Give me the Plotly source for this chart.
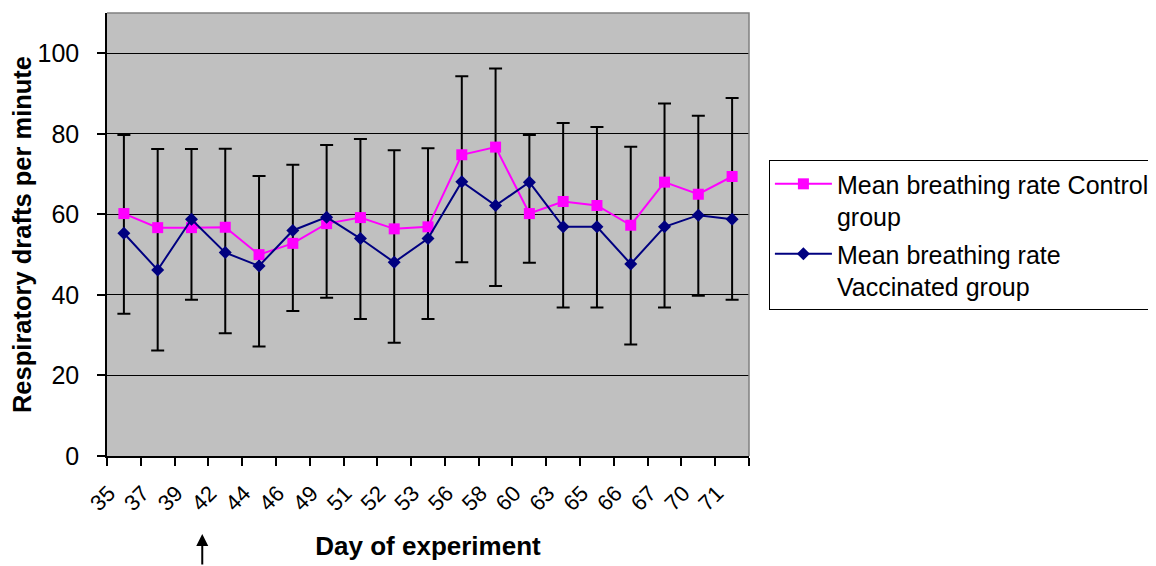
import plotly.graph_objects as go

days = ["35", "37", "39", "42", "44", "46", "49", "51", "52", "53",
        "56", "58", "60", "63", "65", "66", "67", "70", "71"]
control = [60.2, 56.7, 56.7, 56.8, 50.0, 52.8, 57.7, 59.2, 56.4, 56.9,
           74.8, 76.7, 60.2, 63.2, 62.2, 57.3, 68.0, 65.0, 69.4]
vaccinated = [55.3, 46.2, 58.8, 50.5, 47.2, 56.0, 59.3, 54.0, 48.1, 54.0,
              68.1, 62.2, 68.0, 56.9, 56.9, 47.7, 56.9, 59.8, 58.8]
control_err_plus = [19.5] * 19
vacc_err_minus = [20.0] * 19
marked_day = "42"

FONT = "Arial, Liberation Sans, sans-serif"
MAGENTA = "#FF00FF"
NAVY = "#000080"

# combined error span: from vaccinated minus error up to control plus error
err_base = [v - e for v, e in zip(vaccinated, vacc_err_minus)]
err_span = [c + ep - b for c, ep, b in zip(control, control_err_plus, err_base)]

fig = go.Figure()
fig.add_trace(go.Scatter(
    x=days, y=err_base, mode="markers",
    marker=dict(size=1, color="rgba(0,0,0,0)"),
    error_y=dict(type="data", array=err_span, arrayminus=[0] * len(days),
                 symmetric=False, color="black", thickness=2, width=6.5),
    showlegend=False, hoverinfo="skip"))
fig.add_trace(go.Scatter(
    x=days, y=control, mode="lines+markers",
    name="Mean breathing rate Control<br>group", legendgroup="c",
    line=dict(color=MAGENTA, width=2),
    marker=dict(symbol="square", size=11, color=MAGENTA)))
fig.add_trace(go.Scatter(
    x=days, y=vaccinated, mode="lines+markers",
    name="Mean breathing rate<br>Vaccinated group", legendgroup="v",
    line=dict(color=NAVY, width=2),
    marker=dict(symbol="diamond", size=10, color=NAVY)))

fig.update_layout(
    width=1148, height=558,
    margin=dict(l=99, r=407, t=5, b=110, autoexpand=False),
    paper_bgcolor="white", plot_bgcolor="#C0C0C0",
    font=dict(family=FONT, color="black"),
    showlegend=True,
    legend=dict(x=1.031, y=0.668, xanchor="left", yanchor="top",
                bgcolor="white", bordercolor="black", borderwidth=1,
                font=dict(size=25, family=FONT, color="black"),
                valign="top", itemwidth=57, tracegroupgap=2),
    xaxis=dict(type="category", range=[-0.5, 18.5],
               showgrid=False, zeroline=False,
               showline=True, linecolor="black", linewidth=1.5,
               ticks="outside", tickson="boundaries", ticklen=8,
               tickcolor="black", tickwidth=1.5,
               tickangle=-45, tickfont=dict(size=22, family=FONT),
               ticklabelshift=-15, ticklabelstandoff=14,
               title=dict(text="<b>Day of experiment</b>",
                          font=dict(size=26, family=FONT), standoff=22)),
    yaxis=dict(range=[0, 110], dtick=20, tick0=0,
               showgrid=True, gridcolor="black", gridwidth=1.3,
               zeroline=False,
               showline=True, linecolor="black", linewidth=1.5,
               ticks="outside", ticklen=8, tickcolor="black", tickwidth=1.5,
               tickfont=dict(size=25, family=FONT), ticklabelstandoff=13,
               title=dict(text="<b>Respiratory drafts per minute</b>",
                          font=dict(size=25.5, family=FONT), standoff=0)),
    shapes=[dict(type="path", xref="paper", yref="paper",
                 path="M0,1 L1,1 L1,0", line=dict(color="#808080", width=1.5),
                 layer="above")],
    annotations=[dict(x=days.index(marked_day), y=-0.176, xref="x", yref="paper",
                      xshift=-23, text="", showarrow=True,
                      ax=0, ay=34, arrowhead=2, arrowsize=1.2,
                      arrowwidth=2, arrowcolor="black")],
)

fig.write_html("out.html")
